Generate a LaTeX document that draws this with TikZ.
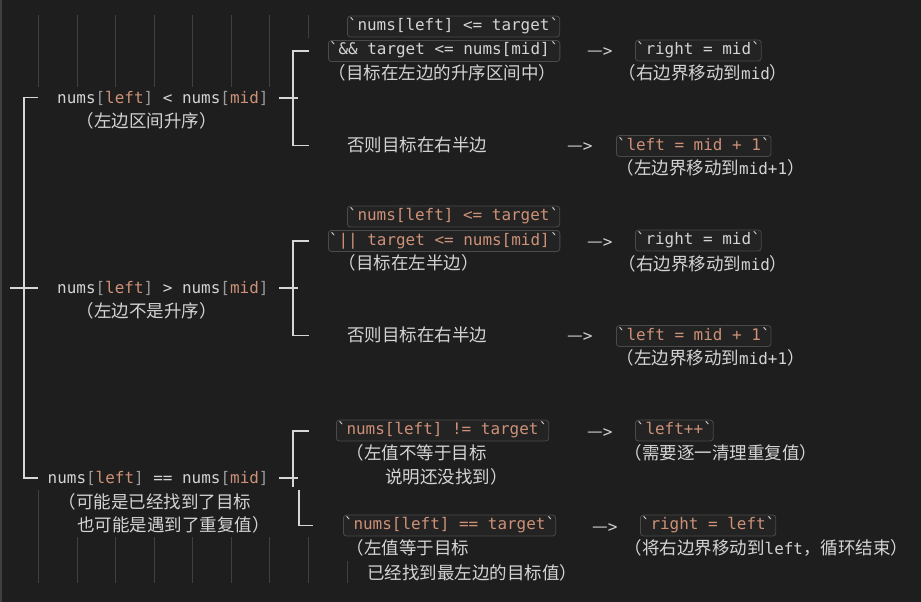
\documentclass[tikz,border=0pt]{standalone}
\usepackage{fontspec}
\setmainfont{DejaVu Sans Mono}[Ligatures=TeXOff]
\newfontfamily\cjk{Noto Sans CJK SC}[Scale=1.097]
\definecolor{bg}{HTML}{1E1E1E}
\definecolor{fg}{HTML}{D4D4D4}
\definecolor{org}{HTML}{CE9178}
\definecolor{brk}{HTML}{9A9A9A}
\definecolor{guide}{HTML}{404040}
\definecolor{boxline}{HTML}{4A4A4A}
\definecolor{boxfill}{HTML}{232323}
\newcommand\bqt{\char"60}
\newcommand\myL{{\color{org}left}}
\newcommand\myM{{\color{org}mid}}
\newcommand\myLb{{\color{brk}[}}
\newcommand\myRb{{\color{brk}]}}
\newcommand\myarr{{\cjk —}>}
\tikzset{
  txt/.style={anchor=base west, inner sep=0pt, text=fg},
  code/.style={anchor=west, draw=boxline, fill=boxfill, rounded corners=3pt,
    inner xsep=0.5pt, inner ysep=2.5pt, text height=12pt, text depth=4pt,
    text=fg, line width=0.8pt},
  tree/.style={draw=fg!92, line width=1.1pt},
  guideline/.style={draw=guide, line width=0.8pt}
}
\begin{document}
\begin{tikzpicture}[x=1pt,y=-1pt,font=\fontsize{15.95}{19}\selectfont]
\useasboundingbox (0,0) rectangle (921,602);
\fill[bg] (0,0) rectangle (921,602);
\fill[fill=black!75!white] (0,0) rectangle (2,602);
% indent guides
\foreach \x in {38.5,77,115.5,154,192.5,231,269.5} \draw[guideline] (\x,15) -- (\x,87);
\draw[guideline] (308,15) -- (308,38);
\draw[guideline] (38.5,490) -- (38.5,583);
\foreach \x in {77,115.5,154,192.5,231,269.5,308} \draw[guideline] (\x,537) -- (\x,583);
\draw[guideline] (347,561) -- (347,583);

% main rows
\node[txt] (ra) at (57,103.5) {nums\myLb\myL\myRb{} < nums\myLb\myM\myRb};
\node[txt] (rac) at (76.5,127.5) {\cjk （左边区间升序）};
\node[txt] (rb) at (57,293.5) {nums\myLb\myL\myRb{} > nums\myLb\myM\myRb};
\node[txt] (rbc) at (76.5,317.5) {\cjk （左边不是升序）};
\node[txt] (rc) at (47.5,483.5) {nums\myLb\myL\myRb{} == nums\myLb\myM\myRb};
\node[txt] (rcc1) at (58.5,508.5) {\cjk （可能是已经找到了目标};
\node[txt] (rcc2) at (77,531.5) {\cjk 也可能是遇到了重复值）};

% block 1
\node[code] (b1a) at (347,26.5) {\bqt nums[left] <= target\bqt};
\node[code] (b1b) at (328,51) {\bqt\&\& target <= nums[mid]\bqt};
\node[txt] (b1c) at (328.5,79.5) {\cjk （目标在左边的升序区间中）};
\node[txt] (ar1a) at (587,57) {\myarr};
\node[code] (r1a) at (635,50.5) {\bqt right = mid\bqt};
\node[txt] (r1ac) at (618.5,79.5) {{\cjk （右边界移动到}mid{\cjk ）}};
\node[txt] (b1d) at (347,151.5) {\cjk 否则目标在右半边};
\node[txt] (ar1b) at (567,151.5) {\myarr};
\node[code] (r1b) at (616,146) {\bqt\textcolor{org}{left = mid + 1}\bqt};
\node[txt] (r1bc) at (616.5,174.5) {{\cjk （左边界移动到}mid+1{\cjk ）}};

% block 2
\node[code] (b2a) at (347,216.5) {\bqt\textcolor{org}{nums[left] <= target}\bqt};
\node[code] (b2b) at (328,241) {\bqt\textcolor{org}{|| target <= nums[mid]}\bqt};
\node[txt] (b2c) at (338.5,269.5) {\cjk （目标在左半边）};
\node[txt] (ar2a) at (587,247) {\myarr};
\node[code] (r2a) at (635,240.5) {\bqt right = mid\bqt};
\node[txt] (r2ac) at (618.5,270) {{\cjk （右边界移动到}mid{\cjk ）}};
\node[txt] (b2d) at (347,341.5) {\cjk 否则目标在右半边};
\node[txt] (ar2b) at (567,341.5) {\myarr};
\node[code] (r2b) at (616,336) {\bqt\textcolor{org}{left = mid + 1}\bqt};
\node[txt] (r2bc) at (616.5,364.5) {{\cjk （左边界移动到}mid+1{\cjk ）}};

% block 3
\node[code] (b3a) at (336,430.5) {\bqt\textcolor{org}{nums[left] != target}\bqt};
\node[txt] (b3ac1) at (346.5,459.5) {\cjk （左值不等于目标};
\node[txt] (b3ac2) at (385,483.5) {\cjk 说明还没找到）};
\node[txt] (ar3a) at (587,437) {\myarr};
\node[code] (r3a) at (635,430.5) {\bqt\textcolor{org}{left++}\bqt};
\node[txt] (r3ac) at (624.5,459.5) {\cjk （需要逐一清理重复值）};
\node[code] (b3b) at (343,525.5) {\bqt\textcolor{org}{nums[left] == target}\bqt};
\node[txt] (b3bc1) at (346.5,554.5) {\cjk （左值等于目标};
\node[txt] (b3bc2) at (367,579.5) {\cjk 已经找到最左边的目标值）};
\node[txt] (ar3b) at (592,532) {\myarr};
\node[code] (r3b) at (640,525.5) {\bqt\textcolor{org}{right = left}\bqt};
\node[txt] (r3bc) at (624.5,554.5) {{\cjk （将右边界移动到}left{\cjk ，循环结束）}};

% left tree
\coordinate (L0) at (24,97.5); \coordinate (L1) at (38,97.5);
\coordinate (Lm0) at (10,288); \coordinate (Lm1) at (38,288);
\coordinate (L2) at (24,478); \coordinate (L3) at (38,478);
\draw[tree] (L1) -- (L0) -- (L2) -- (L3);
\draw[tree] (Lm0) -- (Lm1);

% right tree A
\coordinate (Ax0) at (279,98); \coordinate (Ax1) at (298,98);
\coordinate (At) at (293,51); \coordinate (At1) at (309,51);
\coordinate (Ab) at (293,145.5); \coordinate (Ab1) at (309,145.5);
\draw[tree] (At1) -- (At) -- (Ab) -- (Ab1);
\draw[tree] (Ax0) -- (Ax1);
% right tree B
\coordinate (Bx0) at (279,288); \coordinate (Bx1) at (298,288);
\coordinate (Bt) at (293,241); \coordinate (Bt1) at (309,241);
\coordinate (Bb) at (293,335.5); \coordinate (Bb1) at (309,335.5);
\draw[tree] (Bt1) -- (Bt) -- (Bb) -- (Bb1);
\draw[tree] (Bx0) -- (Bx1);
% right tree C
\coordinate (Cx0) at (279,478); \coordinate (Cx1) at (298,478);
\coordinate (Ct) at (293,431); \coordinate (Ct1) at (309,431);
\coordinate (Cb) at (293,487);
\coordinate (Dt) at (299,490); \coordinate (Db) at (299,525.5); \coordinate (Db1) at (313,525.5);
\draw[tree] (Ct1) -- (Ct) -- (Cb);
\draw[tree] (Cx0) -- (Cx1);
\draw[tree] (Dt) -- (Db) -- (Db1);
\end{tikzpicture}
\end{document}
